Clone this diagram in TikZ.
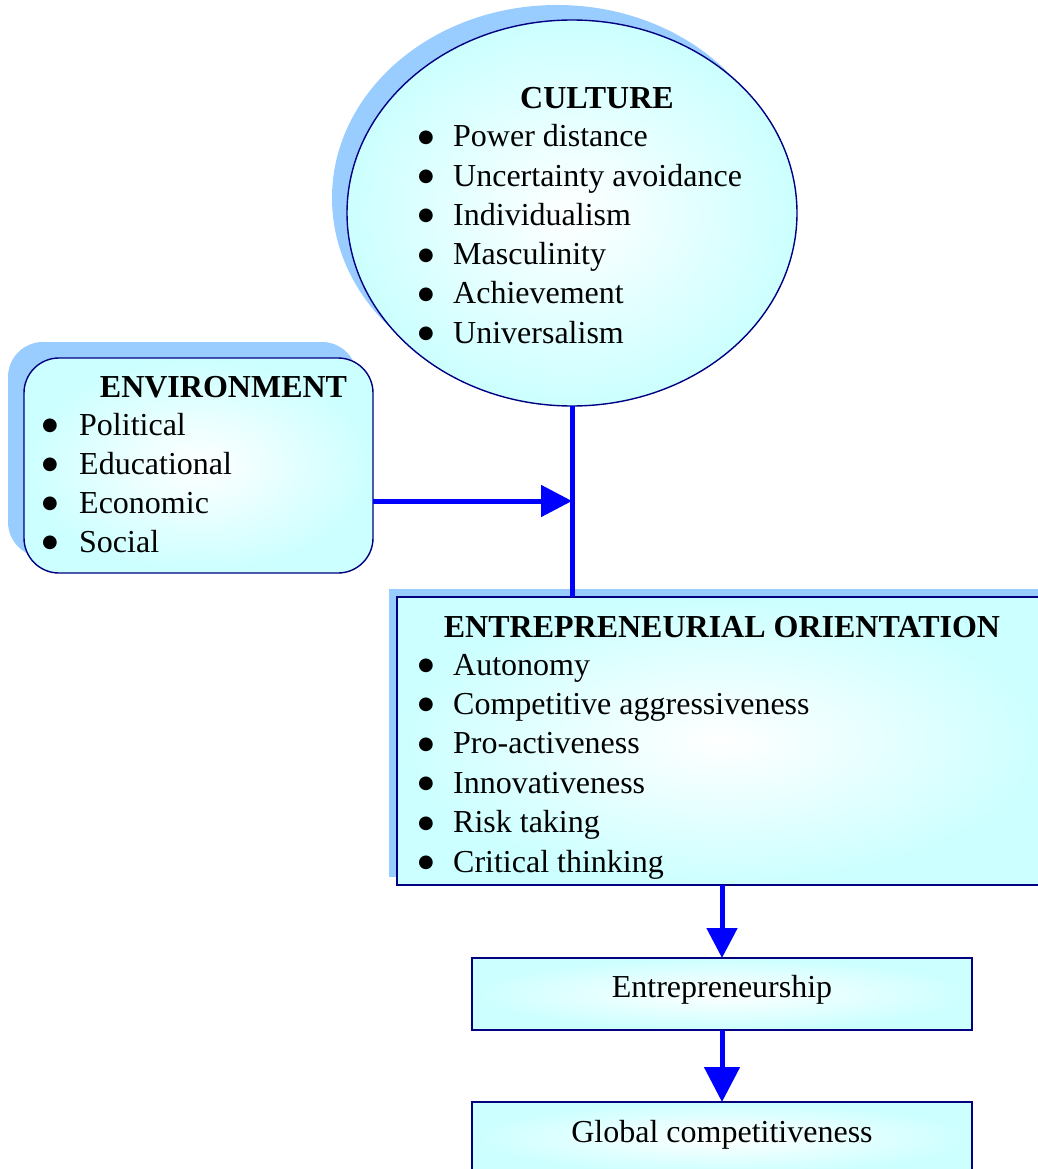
\documentclass[tikz,border=0pt]{standalone}
\usepackage{fontspec}
\setmainfont{Liberation Serif}
\newfontfamily\bulletfont{DejaVu Sans}
\usetikzlibrary{shapes.geometric,arrows.meta}
\definecolor{boxfill}{HTML}{CCFFFF}
\definecolor{shadowblue}{HTML}{99CCFF}
\definecolor{edgenavy}{HTML}{000080}
\definecolor{arrowblue}{HTML}{0000FF}
\begin{document}
\begin{tikzpicture}[x=1pt,y=-1pt,
  shadowshape/.style={fill=shadowblue, draw=none, inner sep=0pt, outer sep=0pt},
  panel/.style={draw=edgenavy, line width=1.4pt, shading=radial, inner color=white, outer color=boxfill, inner sep=0pt, outer sep=0pt},
  txt/.style={inner sep=0pt, font=\fontsize{32}{38}\selectfont},
  bul/.style={inner sep=0pt, font=\bulletfont\fontsize{18}{19}\selectfont, anchor=base, yshift=4.5pt},
  ttl/.style={inner sep=0pt, font=\fontsize{32}{38}\selectfont\bfseries},
  flow/.style={draw=arrowblue, line width=5pt},
  head/.style={-{Triangle[length=#1,width=#1]}}
]
\useasboundingbox (0,0) rectangle (1037,1169);

% shadows
\node[shadowshape, ellipse, minimum width=450pt, minimum height=386pt] (culsh) at (557,198) {};
\node[shadowshape, rectangle, rounded corners=35pt, minimum width=349pt, minimum height=215pt] (envsh) at (182.5,449.5) {};
\node[shadowshape, rectangle, minimum width=650pt, minimum height=288pt] (eosh) at (714,733) {};

% panels
\node[panel, ellipse, minimum width=450pt, minimum height=386pt] (culture) at (572,213) {};
\node[panel, rectangle, rounded corners=35pt, minimum width=349pt, minimum height=215pt] (env) at (198.5,465.5) {};
\node[panel, rectangle, minimum width=650pt, minimum height=288pt] (eo) at (722,741) {};
\node[panel, rectangle, minimum width=500pt, minimum height=72pt] (entre) at (722,994) {};
\node[panel, rectangle, minimum width=500pt, minimum height=72pt] (glob) at (722,1138) {};

% texts: culture
\node[ttl, anchor=base] (cultitle) at (597,109) {CULTURE};
\foreach \t [count=\i from 0] in {Power distance,Uncertainty avoidance,Individualism,Masculinity,Achievement,Universalism}{
  \node[bul] (culb-\i) at (426,147+39.2*\i) {●};
  \node[txt, anchor=base west] (cul-\i) at (453,147+39.2*\i) {\t};
}
% environment
\node[ttl, anchor=base] (envtitle) at (223.5,397) {ENVIRONMENT};
\foreach \t [count=\i from 0] in {Political,Educational,Economic,Social}{
  \node[bul] (envb-\i) at (50,435+39*\i) {●};
  \node[txt, anchor=base west] (envi-\i) at (79,435+39*\i) {\t};
}
% EO
\node[ttl, anchor=base] (eotitle) at (722,637) {ENTREPRENEURIAL ORIENTATION};
\foreach \t [count=\i from 0] in {Autonomy,Competitive aggressiveness,Pro-activeness,Innovativeness,Risk taking,Critical thinking}{
  \node[bul] (eob-\i) at (426,675+39.4*\i) {●};
  \node[txt, anchor=base west] (eoi-\i) at (453,675+39.4*\i) {\t};
}
\node[txt, anchor=base] (entretext) at (722,997) {Entrepreneurship};
\node[txt, anchor=base] (globtext) at (722,1142) {Global competitiveness};

% connectors
\coordinate (junction) at (572,501);
\draw[flow] (culture.south) -- (culture.south |- eo.north);
\draw[flow, head=31pt] (env.east |- junction) -- (junction);
\draw[flow, head=30pt] (eo.south) -- (entre.north);
\draw[flow, head=35pt] (entre.south) -- (glob.north);
\end{tikzpicture}
\end{document}
